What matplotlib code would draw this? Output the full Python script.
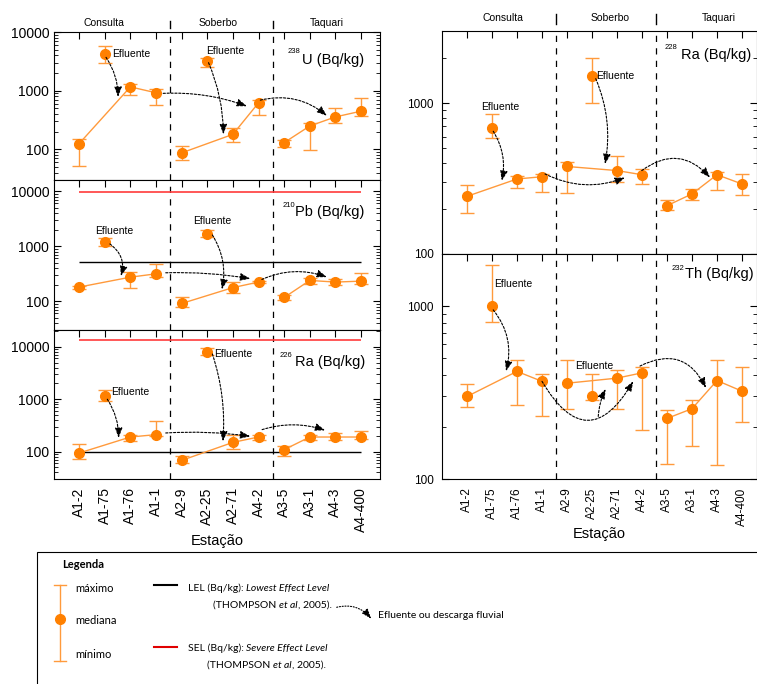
import numpy as np
import matplotlib
matplotlib.use('Agg')
import matplotlib.pyplot as plt
from matplotlib import font_manager
from matplotlib.ticker import FuncFormatter, NullFormatter, LogLocator
from matplotlib.transforms import blended_transform_factory
from matplotlib.lines import Line2D
from matplotlib.patches import Rectangle

plt.rcParams['font.family'] = 'Liberation Sans'

try:
    font_manager.findfont('Liberation Sans Narrow', fallback_to_default=False)
    FONTE_LEG = 'Liberation Sans Narrow'
except ValueError:
    FONTE_LEG = 'Lato'

# estações e grupos (rios)
estacoes = ['A1-2', 'A1-75', 'A1-76', 'A1-1', 'A2-9', 'A2-25', 'A2-71', 'A4-2',
            'A3-5', 'A3-1', 'A4-3', 'A4-400']
efluentes = [1, 5]
grupos = [[0, 2, 3], [4, 6, 7], [8, 9, 10, 11]]
secoes = ['Consulta', 'Soberbo', 'Taquari']

# 238U
u238_med = [125, 4300, 1160, 920, 87, 3190, 180, 620, 130, 250, 357, 447]
u238_max = [152, 5800, 1280, 1060, 114, 3550, 232, 680, 147, 286, 508, 736]
u238_min = [52, 3000, 840, 560, 67, 2570, 133, 392, 110, 97, 286, 372]

# 210Pb
pb210_med = [181, 1170, 274, 315, 91, 1680, 177, 223, 117, 239, 223, 232]
pb210_max = [192, 1440, 343, 477, 119, 1980, 223, 232, 130, 267, 249, 329]
pb210_min = [170, 1020, 171, 274, 77, 1500, 139, 213, 104, 202, 197, 208]
pb210_lel = 510
pb210_sel = 9600

# 226Ra
ra226_med = [94, 1130, 190, 211, 68, 7920, 150, 190, 109, 190, 190, 190]
ra226_max = [140, 1470, 208, 390, 84, 9450, 211, 208, 126, 211, 227, 248]
ra226_min = [73, 908, 162, 200, 61, 7050, 112, 166, 84, 166, 166, 171]
ra226_lel = 100
ra226_sel = 13500

# 228Ra
ra228_med = [241, 679, 314, 325, 380, 1517, 357, 335, 209, 250, 335, 291]
ra228_max = [288, 846, 327, 339, 404, 1990, 443, 366, 228, 269, 351, 339]
ra228_min = [187, 583, 274, 256, 253, 994, 298, 291, 196, 229, 267, 246]

# 232Th
th232_med = [300, 1000, 419, 367, 358, 300, 383, 411, 224, 255, 371, 322]
th232_max = [353, 1727, 487, 406, 487, 406, 426, 446, 252, 288, 489, 446]
th232_min = [261, 811, 269, 231, 254, 286, 254, 192, 122, 156, 120, 214]

# setas (x0, y0, x1, y1, curvatura)
setas_u = [(1.05, 3700, 1.52, 780, -0.15), (5.05, 3000, 5.63, 180, -0.1),
           (3.28, 900, 6.55, 543, -0.1), (7.07, 690, 9.67, 372, -0.25)]
setas_pb = [(1.2, 1100, 1.63, 286, -0.35), (5.2, 1600, 5.57, 164, -0.2),
            (3.38, 329, 6.68, 257, -0.05), (7.13, 249, 9.67, 274, -0.2)]
setas_ra226 = [(1.1, 1000, 1.54, 182, -0.15), (5.2, 7300, 5.61, 157, -0.1),
               (3.38, 227, 6.68, 196, -0.05), (7.14, 263, 9.6, 255, -0.16)]
setas_ra228 = [(1.05, 650, 1.39, 305, -0.2), (5.15, 1450, 5.52, 394, -0.15),
               (3.12, 339, 6.32, 321, 0.22), (6.99, 357, 9.72, 321, -0.45)]
setas_th = [(1.05, 950, 1.56, 420, -0.25), (3.0, 367, 6.65, 368, 0.85),
            (5.25, 230, 5.55, 332, -0.1), (6.92, 450, 9.56, 336, -0.5)]

# rótulos "Efluente" (x, y)
rot_u = [(1.29, 4300), (4.95, 4800)]
rot_pb = [(0.62, 1930), (4.43, 2900)]
rot_ra226 = [(1.25, 1390), (5.25, 7250)]
rot_ra228 = [(0.55, 945), (5.15, 1517)]
rot_th = [(1.08, 1346), (4.32, 453)]

LARANJA = '#FF8000'
LINHA = '#FF9A3C'
VERMELHO = '#FF3B3B'

W, H = 757, 684
fig = plt.figure(figsize=(W / 100, H / 100), dpi=100)


def fx(px):
    return px / W


def fy(py):
    return 1 - py / H


def eixo(x0, y0, x1, y1):
    return fig.add_axes([fx(x0), fy(y1), fx(x1) - fx(x0), fy(y0) - fy(y1)])


def painel(ax, med, vmax, vmin, ylim, setas, rotulos, ysize):
    med = np.array(med, float)
    vmax = np.array(vmax, float)
    vmin = np.array(vmin, float)
    x = np.arange(len(estacoes))
    for g in grupos:
        ax.plot(x[g], med[g], color=LINHA, lw=1, zorder=2)
    ax.errorbar(x, med, yerr=[med - vmin, vmax - med], fmt='o', color=LARANJA,
                ecolor=LINHA, ms=7, capsize=5, elinewidth=1, capthick=1, zorder=3)
    for (x0, y0, x1, y1, rad) in setas:
        ax.annotate('', xy=(x1, y1), xytext=(x0, y0),
                    arrowprops=dict(arrowstyle='-|>,head_length=0.6,head_width=0.22',
                                    color='k', lw=0.8, ls=(0, (2, 1.5)),
                                    connectionstyle=f'arc3,rad={rad}',
                                    shrinkA=0, shrinkB=0, mutation_scale=10),
                    zorder=4)
    for (xt, yt) in rotulos:
        ax.text(xt, yt, 'Efluente', fontsize=7.5, va='center', zorder=5)
    ax.set_yscale('log')
    ax.set_ylim(*ylim)
    ax.set_xticks(x)
    ax.set_xticklabels(estacoes, rotation=90, fontsize=9)
    ax.yaxis.set_major_locator(LogLocator(base=10))
    ax.yaxis.set_major_formatter(FuncFormatter(lambda v, p: f'{v:g}'))
    ax.yaxis.set_minor_formatter(NullFormatter())
    ax.tick_params(which='both', direction='in', top=True, bottom=False,
                   right=True, labelbottom=False, labelsize=ysize)
    ax.tick_params(which='major', length=5)
    ax.tick_params(which='minor', length=3)
    ax.tick_params(axis='x', pad=6)
    for xv in (3.55, 7.55):
        ax.axvline(xv, color='k', lw=0.9, ls=(0, (5, 5)), zorder=1)


def titulo(ax, xs, ys, xm, ym, iso, resto):
    ax.text(xs, ys, iso, transform=ax.transAxes, fontsize=5.5, va='center')
    ax.text(xm, ym, resto, transform=ax.transAxes, fontsize=10.5, va='center')


def cabecalho(ax, xs_sec, y_txt, y0, y1):
    tr = blended_transform_factory(ax.transData, ax.transAxes)
    for nome, xc in zip(secoes, xs_sec):
        ax.text(xc, y_txt, nome, transform=tr, ha='center', va='center', fontsize=7.5)
    for xv in (3.55, 7.55):
        ax.plot([xv, xv], [y0, y1], transform=tr, color='k', lw=1, clip_on=False)


# coluna esquerda
ax1 = eixo(54, 32, 380, 180)
ax2 = eixo(54, 180, 380, 330)
ax3 = eixo(54, 330, 380, 479)
painel(ax1, u238_med, u238_max, u238_min, (30, 10000), setas_u, rot_u, 10)
painel(ax2, pb210_med, pb210_max, pb210_min, (30, 16000), setas_pb, rot_pb, 10)
painel(ax3, ra226_med, ra226_max, ra226_min, (30, 21000), setas_ra226, rot_ra226, 10)
ax2.hlines(pb210_lel, 0, 11, color='k', lw=1, zorder=1)
ax2.hlines(pb210_sel, 0, 11, color=VERMELHO, lw=1.2, zorder=1)
ax3.hlines(ra226_lel, 0, 11, color='k', lw=1, zorder=1)
ax3.hlines(ra226_sel, 0, 11, color=VERMELHO, lw=1.2, zorder=1)
for ax in (ax1, ax2, ax3):
    ax.set_xlim(-0.98, 11.74)
ax3.tick_params(axis='x', labelbottom=True)
ax3.set_xlabel('Estação', fontsize=10.5, labelpad=1)
titulo(ax1, 0.715, 0.865, 0.761, 0.811, '238', 'U (Bq/kg)')
titulo(ax2, 0.701, 0.827, 0.738, 0.789, '210', 'Pb (Bq/kg)')
titulo(ax3, 0.691, 0.832, 0.739, 0.787, '226', 'Ra (Bq/kg)')
cabecalho(ax1, [0.96, 5.43, 9.65], 1.06, 1.027, 1.074)

# coluna direita
ax4 = eixo(442, 31, 757, 254)
ax5 = eixo(442, 254, 757, 479)
painel(ax4, ra228_med, ra228_max, ra228_min, (100, 3000), setas_ra228, rot_ra228, 8.5)
painel(ax5, th232_med, th232_max, th232_min, (100, 2000), setas_th, rot_th, 8.5)
for ax in (ax4, ax5):
    ax.set_xlim(-1.0, 11.6)
    ax.tick_params(axis='y', pad=6)
ax5.tick_params(axis='x', labelbottom=True)
ax5.set_xlabel('Estação', fontsize=10.5, labelpad=1)
titulo(ax4, 0.708, 0.927, 0.759, 0.892, '228', 'Ra (Bq/kg)')
titulo(ax5, 0.729, 0.936, 0.771, 0.91, '232', 'Th (Bq/kg)')
cabecalho(ax4, [1.42, 5.72, 10.08], 1.058, 1.031, 1.076)

# legenda
fig.add_artist(Rectangle((fx(37), fy(700)), fx(770) - fx(37), fy(552) - fy(700),
                         fill=False, ec='k', lw=0.8, transform=fig.transFigure))
fig.text(fx(62), fy(565), 'Legenda', fontsize=8, weight='bold', family=FONTE_LEG, va='center')
fig.add_artist(Line2D([fx(60), fx(60)], [fy(585), fy(661)], color=LINHA, lw=1))
for yc in (585, 661):
    fig.add_artist(Line2D([fx(54), fx(66)], [fy(yc), fy(yc)], color=LINHA, lw=1))
fig.add_artist(Line2D([fx(60)], [fy(619)], marker='o', ms=7, color=LARANJA))
for txt, yc in (('máximo', 588), ('mediana', 621), ('mínimo', 655)):
    fig.text(fx(75), fy(yc), txt, fontsize=8, family=FONTE_LEG, va='center')

fig.add_artist(Line2D([fx(154), fx(177)], [fy(585), fy(585)], color='k', lw=1.5))
fig.add_artist(Line2D([fx(154), fx(177)], [fy(647), fy(647)], color='#E00000', lw=1.5))

renderer = fig.canvas.get_renderer()


def trechos(x, yc, partes, size=7.5):
    x = fx(x)
    for s, estilo in partes:
        t = fig.text(x, fy(yc), s, fontsize=size, style=estilo, family=FONTE_LEG, va='center')
        x += t.get_window_extent(renderer).width / fig.bbox.width


trechos(188, 588, [('LEL (Bq/kg): ', 'normal'), ('Lowest Effect Level', 'italic')])
trechos(213, 605, [('(THOMPSON ', 'normal'), ('et al', 'italic'), (', 2005).', 'normal')])
trechos(188, 648, [('SEL (Bq/kg): ', 'normal'), ('Severe Effect Level', 'italic')])
trechos(207, 665, [('(THOMPSON ', 'normal'), ('et al', 'italic'), (', 2005).', 'normal')])

fig.add_artist(matplotlib.patches.FancyArrowPatch(
    (fx(334), fy(608)), (fx(373), fy(621)), transform=fig.transFigure,
    arrowstyle='-|>,head_length=0.6,head_width=0.22', color='k', lw=0.8,
    ls=(0, (1, 1.5)), connectionstyle='arc3,rad=-0.35', mutation_scale=10))
fig.text(fx(378), fy(616), 'Efluente ou descarga fluvial', fontsize=7.5,
         family=FONTE_LEG, va='center')

fig.savefig('out.png', dpi=100)
